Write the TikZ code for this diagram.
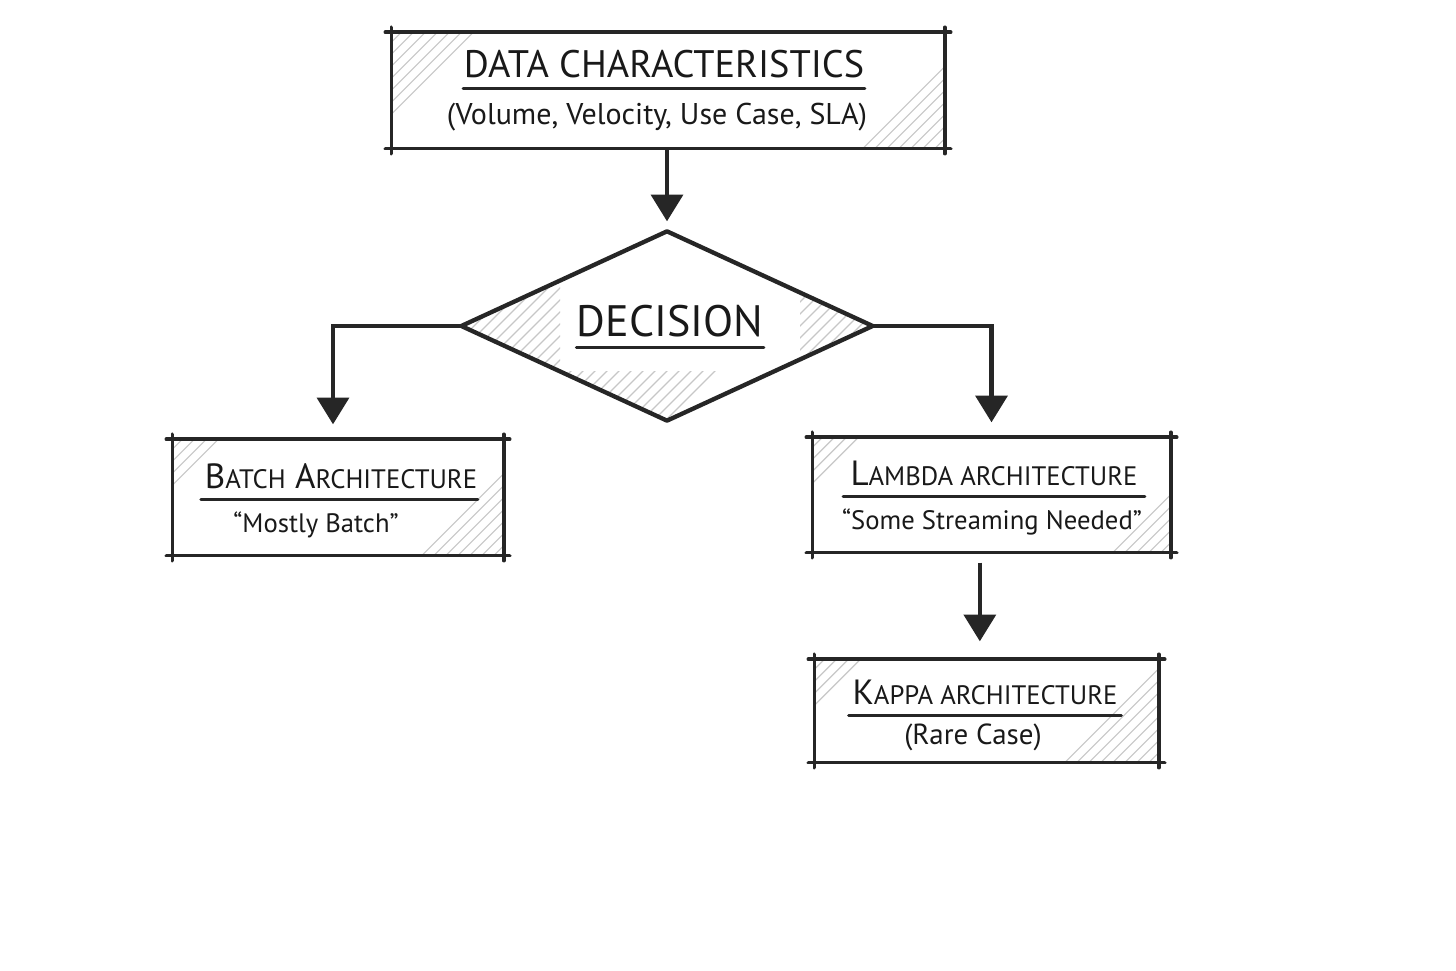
\documentclass[tikz,border=0pt]{standalone}
\usepackage{fontspec}
\setmainfont{PT Sans}
\usetikzlibrary{arrows.meta,positioning,shapes.geometric,calc}

\newcommand{\capsm}[1]{{\fontsize{8}{9}\selectfont #1}}

% box edges drawn a little past the corners
\newcommand{\sketchframe}[1]{%
  \draw[frame] ($(#1.north west)+(-6,0)$) -- ($(#1.north east)+(6,0)$);
  \draw[frame] ($(#1.south west)+(-6,0)$) -- ($(#1.south east)+(6,0)$);
  \draw[frame] ($(#1.north west)+(0,-5)$) -- ($(#1.south west)+(0,5)$);
  \draw[frame] ($(#1.north east)+(0,-5)$) -- ($(#1.south east)+(0,5)$);}

% light hatching in the top left and bottom right corners
\newcommand{\hatchcorners}[3]{%
  \begin{scope}
    \clip (#1.south west) rectangle (#1.north east);
    \foreach \hh in {10,22,...,#2}
      \draw[hatch] ($(#1.north west)+(0,\hh)$) -- ($(#1.north west)+(\hh,0)$);
    \foreach \hh in {10,22,...,#3}
      \draw[hatch] ($(#1.south east)+(-\hh,0)$) -- ($(#1.south east)+(0,-\hh)$);
  \end{scope}}

\begin{document}
\begin{tikzpicture}[
    x=0.3pt, y=-0.3pt,
    boxnode/.style={rectangle, inner sep=0pt},
    frame/.style={line width=1.1pt, draw=black!85, line cap=round},
    hatch/.style={draw=black!22, line width=0.35pt},
    title/.style={inner sep=0pt, text=black!90, font=\fontsize{10.5}{12}\selectfont},
    subtitle/.style={inner sep=0pt, text=black!90, font=\fontsize{9}{11}\selectfont},
    uline/.style={line width=0.9pt, draw=black!85, line cap=round},
    arrow/.style={-{Triangle[width=9.5pt,length=8pt]}, line width=1.3pt, draw=black!85}
]
\fill[white] (0,0) rectangle (1456,971);
\useasboundingbox (0,0) rectangle (1456,971);

% boxes
\node[boxnode, minimum width=165.6pt, minimum height=34.5pt] (data) at (668,90.5) {};
\node[diamond, inner sep=0pt, minimum width=123pt, minimum height=56.4pt] (decision) at (667,326) {};
\node[boxnode, minimum width=99pt, minimum height=34.5pt] (batch) at (338,497.5) {};
\node[boxnode, minimum width=107.1pt, minimum height=34.2pt] (lambda) at (991.5,495) {};
\node[boxnode, minimum width=102.9pt, minimum height=30.6pt] (kappa) at (986.5,711) {};

\hatchcorners{data}{82}{82}
\hatchcorners{batch}{46}{82}
\hatchcorners{lambda}{46}{58}
\hatchcorners{kappa}{46}{94}

% hatching inside the diamond
\begin{scope}
  \clip (decision.west) -- (decision.north) -- (decision.east) -- (decision.south) -- cycle;
  \begin{scope}
    \clip (462,220) rectangle (560,430);
    \foreach \hh in {800,812,...,960}
      \draw[hatch] (\hh-440,440) -- (\hh-220,220);
  \end{scope}
  \begin{scope}
    \clip (540,372) rectangle (760,430);
    \foreach \hh in {930,942,...,1090}
      \draw[hatch] (\hh-440,440) -- (\hh-220,220);
  \end{scope}
  \begin{scope}
    \clip (800,220) rectangle (880,430);
    \foreach \hh in {1090,1102,...,1200}
      \draw[hatch] (\hh-440,440) -- (\hh-220,220);
  \end{scope}
\end{scope}

\sketchframe{data}
\sketchframe{batch}
\sketchframe{lambda}
\sketchframe{kappa}
\draw[frame, line width=1.3pt, line join=round] (decision.west) -- (decision.north) -- (decision.east) -- (decision.south) -- cycle;

% texts
\node[title, font=\fontsize{11.5}{13}\selectfont] (datatitle) at (664,64) {DATA CHARACTERISTICS};
\node[subtitle] (datasub) at (657,117) {(Volume, Velocity, Use Case, SLA)};
\node[title, font=\fontsize{13.2}{15}\selectfont] (dectitle) at (670,321) {DECISION};
\node[title] (batchtitle) at (341,476) {B\capsm{ATCH} A\capsm{RCHITECTURE}};
\node[subtitle, font=\fontsize{8}{10}\selectfont] (batchsub) at (316,525) {“Mostly Batch”};
\node[title] (lambdatitle) at (994,473) {L\capsm{AMBDA ARCHITECTURE}};
\node[subtitle, font=\fontsize{8}{10}\selectfont] (lambdasub) at (992,522) {“Some Streaming Needed”};
\node[title] (kappatitle) at (985,692) {K\capsm{APPA ARCHITECTURE}};
\node[subtitle, font=\fontsize{8.7}{10}\selectfont] (kappasub) at (973,737) {(Rare Case)};

\draw[uline] ([yshift=-3pt]datatitle.south west) -- ([yshift=-3pt]datatitle.south east);
\draw[uline] ([yshift=-3pt]dectitle.south west) -- ([yshift=-3pt]dectitle.south east);
\draw[uline] ([xshift=-1pt,yshift=-3pt]batchtitle.south west) -- ([yshift=-3pt]batchtitle.south east);
\draw[uline] ([xshift=-2pt,yshift=-3pt]lambdatitle.south west) -- ([xshift=2pt,yshift=-3pt]lambdatitle.south east);
\draw[uline] ([xshift=-1pt,yshift=-3pt]kappatitle.south west) -- ([xshift=1pt,yshift=-3pt]kappatitle.south east);

% connectors
\draw[arrow, shorten >=3pt] (data.south -| decision.north) -- (decision.north);
\draw[arrow, shorten >=4.5pt] (decision.west) -| ([xshift=-1.5pt]batch.north);
\draw[arrow, shorten >=4.5pt] (decision.east) -| (lambda.north);
\draw[arrow, shorten <=3pt, shorten >=5.4pt] ([xshift=-2pt]kappa.north |- lambda.south) -- ([xshift=-2pt]kappa.north);
\end{tikzpicture}
\end{document}
